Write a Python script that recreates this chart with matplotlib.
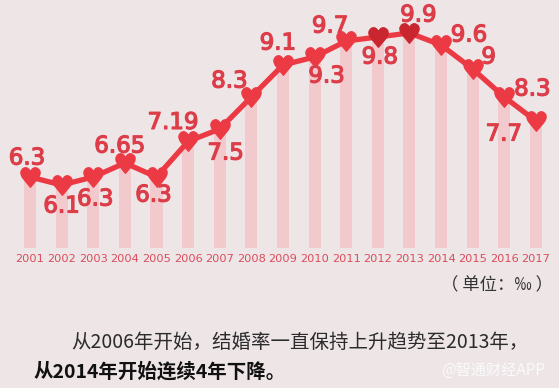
import matplotlib
matplotlib.use("Agg")
import matplotlib.pyplot as plt
import matplotlib.patheffects as pe

# marriage rate (per mille), 2001-2017
years = list(range(2001, 2018))
rates = [6.3, 6.1, 6.3, 6.65, 6.3, 7.19, 7.5, 8.3, 9.1, 9.3, 9.7, 9.8, 9.9, 9.6, 9.0, 8.3, 7.7]
labels = ["6.3", "6.1", "6.3", "6.65", "6.3", "7.19", "7.5", "8.3", "9.1",
          "9.3", "9.7", "9.8", "9.9", "9.6", "9", "8.3", "7.7"]

# label offsets from each point, in pixels
offsets = [(-3, 19), (0, -21), (2, -22), (-5, 17), (-3, -18), (-15, 19), (6, -24),
           (-22, 16), (-5, 22), (12, -19), (-16, 15), (2, -20), (9, 18), (28, 10),
           (16, 12), (28, 8), (-32, -13)]

bg = "#eee5e7"
red = "#ec3a45"
dark_red = "#c9262f"
label_red = "#dc3d48"

fig = plt.figure(figsize=(5.59, 3.88), dpi=100, facecolor=bg)
ax = fig.add_axes([0, 1 - 248 / 388, 1, 248 / 388])
ax.set_facecolor(bg)
ymin, ymax = 4.525, 10.725
ax.set_xlim(2000.05, 2017.73)
ax.set_ylim(ymin, ymax)
ax.axis("off")

ax.bar(years, [r - ymin for r in rates], bottom=ymin, width=0.38,
       color="#f2c9cd", zorder=1)
ax.plot(years, rates, color=red, lw=3.8, zorder=2)
for y, r in zip(years, rates):
    c = dark_red if y in (2012, 2013) else red
    ax.plot(y, r, marker="$♥$", markersize=14, color=c, mec=c, zorder=3)

thick = [pe.withStroke(linewidth=0.9, foreground=label_red)]
for y, r, lab, (dx, dy) in zip(years, rates, labels, offsets):
    ax.annotate(lab, (y, r), xytext=(dx, dy), textcoords="offset pixels",
                ha="center", va="center", fontsize=16.5, color=label_red,
                path_effects=thick, zorder=4)

# year labels under the bars
for y in years:
    px = (y - 2000.05) / (2017.73 - 2000.05)
    fig.text(px, 1 - 259 / 388, str(y), ha="center", va="center",
             fontsize=8.2, color="#dc4c5b")

cjk = ["Noto Sans CJK SC", "DejaVu Sans"]
fig.text(553 / 559, 1 - 285 / 388, "（ 单位：‰ ）", ha="right", va="center",
         fontsize=12.5, color="#333333", family=cjk)
fig.text(71 / 559, 1 - 342 / 388, "从2006年开始，结婚率一直保持上升趋势至2013年，",
         ha="left", va="center", fontsize=14, color="#2b2b2b", family=cjk)
fig.text(34 / 559, 1 - 372 / 388, "从2014年开始连续4年下降。",
         ha="left", va="center", fontsize=14, fontweight="bold", color="#111111", family=cjk)
fig.text(441 / 559, 1 - 370 / 388, "@智通财经APP", ha="left", va="center",
         fontsize=11, color="#fafafa", family=cjk)

fig.savefig("out.png", dpi=100, facecolor=bg)
